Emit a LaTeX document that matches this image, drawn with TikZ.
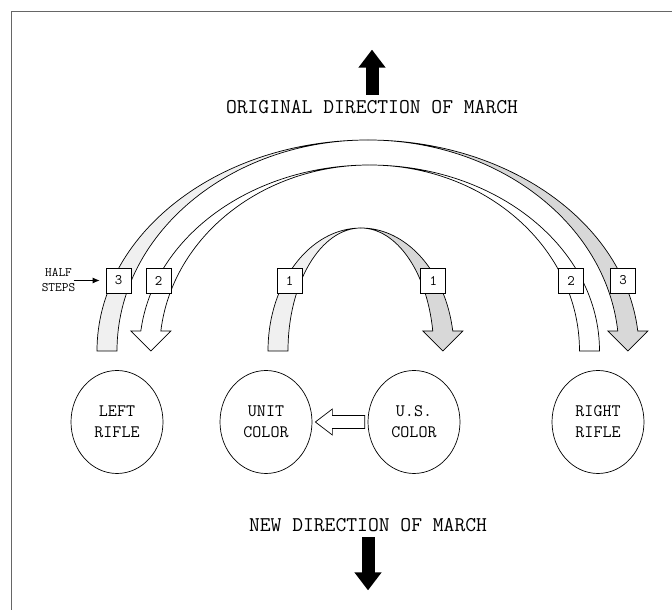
\documentclass[tikz,border=0pt]{standalone}
\usepackage{fontspec}
\usetikzlibrary{shapes.geometric,arrows.meta,calc,positioning}
\definecolor{backband}{HTML}{F0F0F0}
\definecolor{frontband}{HTML}{D8D8D8}
\begin{document}
\begin{tikzpicture}[x=1pt,y=1pt,line width=0.7pt,
	man/.style={ellipse,draw,minimum width=92pt,minimum height=103pt,inner sep=0pt,align=center,font=\ttfamily\fontsize{17.5}{21}\selectfont},
	stepno/.style={draw,fill=white,minimum size=25pt,inner sep=0pt,font=\ttfamily\fontsize{14.5}{14.5}\selectfont},
	heading/.style={font=\ttfamily\fontsize{21}{22}\selectfont},
	march/.style={line width=13pt,-{Triangle[length=18pt,width=26pt]}}]
	\useasboundingbox (0,0) rectangle (672,610);
	\draw[black!60,line width=1pt] (11,0)--(11,598)--(672,598);
	% three half steps
	\filldraw[fill=backband] (97,259) arc[start angle=180,end angle=90,x radius=271,y radius=211] arc[start angle=90,end angle=180,x radius=251,y radius=211]--cycle;
	\filldraw[fill=frontband] (368,470) arc[start angle=90,end angle={asin(20/211)},x radius=271,y radius=211] --++(10,0)--++(-20,-20)--++(-20,20)--++(10,0) arc[start angle={asin(20/211)},end angle=90,x radius=251,y radius=211]--cycle;
	% two half steps
	\filldraw[fill=white] (599.5,259) arc[start angle=0,end angle=90,x radius=230,y radius=186] arc[start angle=90,end angle=0,x radius=210,y radius=186]--cycle;
	\filldraw[fill=white] (369.5,445) arc[start angle=90,end angle={180-asin(20/186)},x radius=230,y radius=186] --++(-10,0)--++(20,-20)--++(20,20)--++(-10,0) arc[start angle={180-asin(20/186)},end angle=90,x radius=210,y radius=186]--cycle;
	% one half step
	\filldraw[fill=backband] (268,259) arc[start angle=180,end angle=90,x radius=93,y radius=123] arc[start angle=90,end angle=180,x radius=73,y radius=123]--cycle;
	\filldraw[fill=frontband] (361,382) arc[start angle=90,end angle={asin(20/123)},x radius=93,y radius=123] --++(10,0)--++(-20,-20)--++(-20,20)--++(10,0) arc[start angle={asin(20/123)},end angle=90,x radius=73,y radius=123]--cycle;
	\node[stepno] (b3l) at (118.5,329.5) {3};
	\node[stepno] (b2l) at (158.5,329.5) {2};
	\node[stepno] (b1l) at (289.7,329.5) {1};
	\node[stepno] (b1r) at (433.3,329.5) {1};
	\node[stepno] (b2r) at (571,329.5) {2};
	\node[stepno] (b3r) at (623,329.5) {3};
	\node[align=center,inner sep=1pt,font=\ttfamily\fontsize{13}{15}\selectfont] (half) at (58.5,329.5) {HALF\\STEPS};
	\draw[-{Latex[length=7pt,width=6pt]},line width=0.8pt,shorten >=6pt,shorten <=-3pt] (half.east)--(b3l.west);
	\node[man] (lrifle) at (117,188) {LEFT\\RIFLE};
	\node[man] (ucolor) at (266,188) {UNIT\\COLOR};
	\node[man] (uscolor) at (414,188) {U.S.\\COLOR};
	\node[man] (rrifle) at (598,188) {RIGHT\\RIFLE};
	\draw[fill=white] ($(uscolor.west)+(-3,6.5)$)--($(ucolor.east)+(20,6.5)$)--++(0,6.5)--($(ucolor.east)+(3,0)$)--($(ucolor.east)+(20,-13)$)--++(0,6.5)--($(uscolor.west)+(-3,-6.5)$)--cycle;
	\node[heading] (orig) at (372,503) {ORIGINAL DIRECTION OF MARCH};
	\node[heading] (new) at (368,85) {NEW DIRECTION OF MARCH};
	\coordinate[above=2pt of orig] (upfoot);
	\coordinate[above=45pt of upfoot] (uptip);
	\draw[march] (upfoot)--(uptip);
	\coordinate[below=2pt of new] (downfoot);
	\coordinate[below=53pt of downfoot] (downtip);
	\draw[march] (downfoot)--(downtip);
\end{tikzpicture}
\end{document}
